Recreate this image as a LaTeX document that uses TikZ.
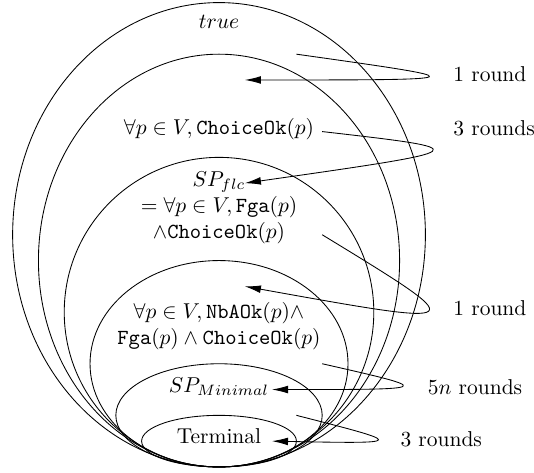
\documentclass[tikz,border=0pt]{standalone}
\usepackage{amsmath}
\usepackage{amssymb}
\usetikzlibrary{arrows.meta}

\begin{document}
\begin{tikzpicture}[x=12pt, y=12pt, >={Latex[length=7.5pt,width=3.6pt]},
    lbl/.style={anchor=west, inner sep=0pt}]
    \useasboundingbox (-8.49,-0.23) rectangle (12.21,18.1);
    % nested sets, all touching at the bottom point
    \foreach \a/\b in {8/9, 7/8, 6/6, 5/4, 4/2, 3/1}
      \draw (0,\b) ellipse [x radius=\a, y radius=\b];

    \node (tru) at (0,17.25) {$true$};
    \node (cho) at (0,13.1)  {$\forall p\in V, \texttt{ChoiceOk}(p)$};
    \node[align=center] (flc) at (0,10.05)
      {$SP_{flc}$\\$=\forall p\in V, \texttt{Fga}(p)$\\$\wedge\texttt{ChoiceOk}(p)$};
    \node[align=center] (nba) at (0,5.45)
      {$\forall p\in V, \texttt{NbAOk}(p)\wedge$\\$\texttt{Fga}(p)\wedge\texttt{ChoiceOk}(p)$};
    \node (min) at (0,3.1) {$SP_{Minimal}$};
    \node (ter) at (0,1.2) {Terminal};

    \node[lbl] (r1) at (9.07,15.23) {1 round};
    \node[lbl] (r2) at (9.07,13.12) {3 rounds};
    \node[lbl] (r3) at (9.07,6.17)  {1 round};
    \node[lbl] (r4) at (8.08,3.11)  {$5n$ rounds};
    \node[lbl] (r5) at (7.02,1.07)  {3 rounds};

    % convergence steps
    \coordinate (s1) at (3,16); \coordinate (e1) at (1,15);
    \coordinate (s2) at (4,13); \coordinate (e2) at (1,11);
    \coordinate (s3) at (4,9);  \coordinate (e3) at (1,7);
    \coordinate (s4) at (4,4);  \coordinate (e4) at (2.05,3);
    \coordinate (s5) at (3,2);  \coordinate (e5) at (2.05,1);
    \draw[->] (s1) .. controls (10.1,15) and (10.1,15) .. (e1);
    \draw[->] (s2) .. controls (10.1,12.3) and (10.1,12.3) .. (e2);
    \draw[->] (s3) .. controls (9.9,5.4) and (9.9,5.4) .. (e3);
    \draw[->] (s4) .. controls (8.4,3) and (8.4,3) .. (e4);
    \draw[->] (s5) .. controls (7.3,0.9) and (7.3,0.9) .. (e5);
\end{tikzpicture}
\end{document}
